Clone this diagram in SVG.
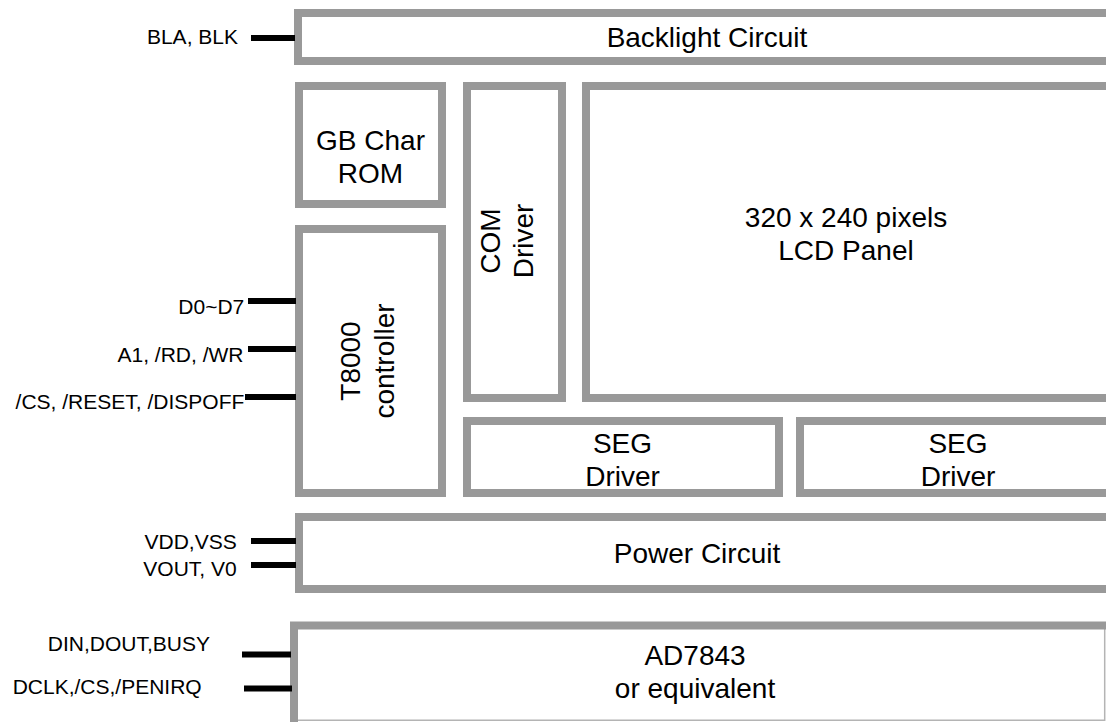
<svg xmlns="http://www.w3.org/2000/svg" width="1106" height="722" viewBox="0 0 1106 722">
<style>
.box{fill:#fff;stroke:#999;stroke-width:8}
.thin{fill:none;stroke:#b4b4b4;stroke-width:1.5}
.t{font-family:"Liberation Sans",Arial,sans-serif;font-size:28px;fill:#000;text-anchor:middle}
.l{font-family:"Liberation Sans",Arial,sans-serif;font-size:21px;fill:#000;text-anchor:end}
.c line{stroke:#000;stroke-width:6}
</style>
<rect width="1106" height="722" fill="#fff"/>
<g id="backlight">
<rect class="box" x="298" y="13" width="900" height="48"/>
<text class="t" x="707" y="47">Backlight Circuit</text>
</g>
<g id="gbrom">
<rect class="box" x="299" y="86" width="143" height="118"/>
<text class="t" x="370.5" y="150">GB Char</text>
<text class="t" x="370.5" y="183">ROM</text>
</g>
<g id="com">
<rect class="box" x="467" y="86" width="95" height="312"/>
<text class="t" transform="translate(500,241) rotate(-90)">COM</text>
<text class="t" transform="translate(533,241) rotate(-90)">Driver</text>
</g>
<g id="lcd">
<rect class="box" x="586" y="86" width="600" height="312"/>
<text class="t" x="846" y="227">320 x 240 pixels</text>
<text class="t" x="846" y="260">LCD Panel</text>
</g>
<g id="t8000">
<rect class="box" x="299" y="229" width="143" height="264"/>
<text class="t" transform="translate(360,361) rotate(-90)">T8000</text>
<text class="t" transform="translate(394,361) rotate(-90)">controller</text>
</g>
<g id="seg1">
<rect class="box" x="467" y="421" width="312" height="72"/>
<text class="t" x="622.5" y="452.5">SEG</text>
<text class="t" x="622.5" y="486">Driver</text>
</g>
<g id="seg2">
<rect class="box" x="800" y="421" width="400" height="72"/>
<text class="t" x="958" y="452.5">SEG</text>
<text class="t" x="958" y="486">Driver</text>
</g>
<g id="power">
<rect class="box" x="299" y="517" width="900" height="72"/>
<text class="t" x="697" y="563">Power Circuit</text>
</g>
<g id="ad7843">
<rect x="294" y="625.5" width="811" height="95" fill="#fff"/>
<path class="thin" d="M294,720.3 H1104.7 V625.5"/>
<path d="M294,722 V625.5 H1106" fill="none" stroke="#999" stroke-width="8"/>
<text class="t" x="695" y="665">AD7843</text>
<text class="t" x="695" y="698">or equivalent</text>
</g>
<g id="connectors" class="c">
<line x1="251" y1="38" x2="295" y2="38"/>
<line x1="248" y1="301" x2="296" y2="301"/>
<line x1="248" y1="349" x2="296" y2="349"/>
<line x1="245" y1="397" x2="296" y2="397"/>
<line x1="251" y1="541" x2="296" y2="541"/>
<line x1="251" y1="565" x2="296" y2="565"/>
<line x1="242" y1="654.5" x2="291" y2="654.5"/>
<line x1="244" y1="688.5" x2="292" y2="688.5"/>
</g>
<g id="labels">
<text class="l" x="238" y="44.3">BLA, BLK</text>
<text class="l" x="244.3" y="314">D0~D7</text>
<text class="l" x="243.5" y="361.7">A1, /RD, /WR</text>
<text class="l" x="244.3" y="409.3">/CS, /RESET, /DISPOFF</text>
<text class="l" x="236.7" y="549.3">VDD,VSS</text>
<text class="l" x="236.7" y="576">VOUT, V0</text>
<text class="l" x="210" y="650.7">DIN,DOUT,BUSY</text>
<text class="l" x="201.7" y="694">DCLK,/CS,/PENIRQ</text>
</g>
</svg>
